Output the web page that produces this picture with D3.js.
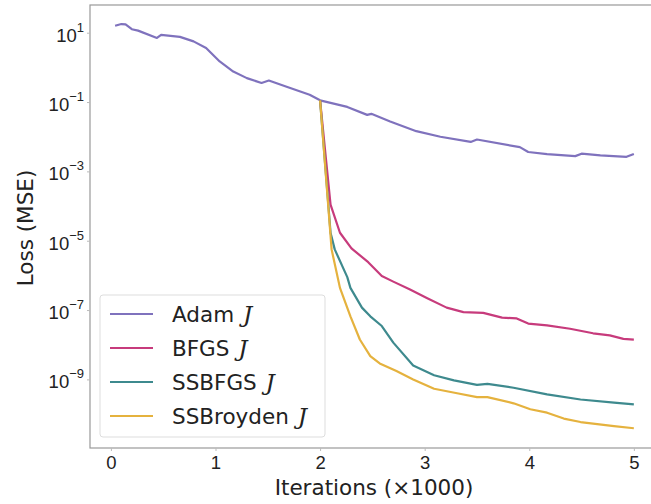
<!DOCTYPE html>
<html>
<head>
  <style type="text/css">
    body { margin: 0; background: #fff; }
    svg { font-family: "DejaVu Sans", sans-serif; }
    .tick text { fill: #222; }
  </style>
</head>
<body>
  <script src="https://cdn.jsdelivr.net/npm/d3@7/dist/d3.min.js"></script>
  <script type="text/javascript">
    // iterations in thousands, loss as log10(MSE)
    var adamX = [0.04, 0.1, 0.14, 0.2, 0.26, 0.44, 0.48, 0.66, 0.79, 0.91, 1.04, 1.17, 1.30, 1.44, 1.51, 1.68, 1.90, 2.0, 2.26, 2.45, 2.49, 2.67, 2.92, 3.15, 3.44, 3.50, 3.91, 3.99, 4.17, 4.44, 4.50, 4.68, 4.93, 5.0];
    var adamY = [1.2, 1.25, 1.24, 1.1, 1.06, 0.85, 0.94, 0.88, 0.75, 0.56, 0.17, -0.12, -0.31, -0.45, -0.38, -0.56, -0.79, -0.95, -1.14, -1.37, -1.34, -1.56, -1.84, -2.0, -2.15, -2.08, -2.30, -2.44, -2.50, -2.56, -2.49, -2.54, -2.58, -2.50];

    var bfgsX = [2.0, 2.06, 2.10, 2.19, 2.30, 2.46, 2.59, 2.70, 2.86, 3.02, 3.21, 3.37, 3.56, 3.74, 3.88, 3.99, 4.17, 4.39, 4.61, 4.77, 4.90, 5.0];
    var bfgsY = [-0.95, -2.76, -3.96, -4.77, -5.22, -5.62, -6.02, -6.18, -6.41, -6.65, -6.93, -7.06, -7.08, -7.22, -7.24, -7.39, -7.44, -7.54, -7.67, -7.73, -7.83, -7.85];

    var ssbfgsX = [2.0, 2.10, 2.14, 2.26, 2.29, 2.40, 2.48, 2.59, 2.70, 2.89, 3.09, 3.28, 3.50, 3.60, 3.85, 4.17, 4.49, 4.81, 5.0];
    var ssbfgsY = [-0.95, -4.77, -5.25, -6.05, -6.36, -6.93, -7.18, -7.46, -7.94, -8.6, -8.88, -9.03, -9.16, -9.13, -9.24, -9.43, -9.58, -9.67, -9.72];

    var ssbroydenX = [2.0, 2.11, 2.19, 2.29, 2.38, 2.48, 2.57, 2.73, 2.89, 3.09, 3.31, 3.50, 3.60, 3.85, 4.01, 4.17, 4.33, 4.49, 4.81, 5.0];
    var ssbroydenY = [-0.95, -5.25, -6.36, -7.18, -7.85, -8.33, -8.54, -8.76, -9.0, -9.27, -9.4, -9.51, -9.51, -9.69, -9.86, -9.96, -10.13, -10.23, -10.35, -10.41];

    var names = ["Adam", "BFGS", "SSBFGS", "SSBroyden"];
    var colors = ["#7f72bd", "#c73b7c", "#3e8a8e", "#e5b23e"];
    var xTicks = [0, 1, 2, 3, 4, 5];
    var yTickExp = [1, -1, -3, -5, -7, -9];

    var series = [
      { name: names[0], x: adamX, y: adamY },
      { name: names[1], x: bfgsX, y: bfgsY },
      { name: names[2], x: ssbfgsX, y: ssbfgsY },
      { name: names[3], x: ssbroydenX, y: ssbroydenY }
    ];

    var w = 651, h = 504;
    var m = { left: 90, right: -9, top: 5, bottom: 56 };

    var svg = d3.select("body").append("svg")
      .attr("width", w).attr("height", h);

    var x = d3.scaleLinear()
      .domain([-0.2, 5.25])
      .range([m.left, w - m.right]);

    var y = d3.scaleLog()
      .domain([1.05e-11, 63])
      .range([h - m.bottom, m.top]);

    var line = d3.line()
      .x(d => x(d[0]))
      .y(d => y(Math.pow(10, d[1])));

    // frame
    svg.append("rect")
      .attr("x", m.left).attr("y", m.top)
      .attr("width", x.range()[1] - m.left)
      .attr("height", h - m.bottom - m.top)
      .attr("fill", "none")
      .attr("stroke", "#999").attr("stroke-width", 1.2);

    // x axis
    var xAxis = svg.append("g")
      .attr("transform", "translate(0," + (h - m.bottom) + ")")
      .call(d3.axisBottom(x).tickValues(xTicks).tickSize(3).tickPadding(5).tickFormat(d3.format("d")));
    xAxis.select(".domain").remove();
    xAxis.selectAll(".tick line").attr("stroke", "#bbb");
    xAxis.selectAll(".tick text").attr("font-size", 18.5);

    // y axis
    var yAxis = svg.append("g")
      .attr("transform", "translate(" + m.left + ",0)")
      .call(d3.axisLeft(y).tickValues(yTickExp.map(e => Math.pow(10, e))).tickSize(3).tickPadding(4).tickFormat(""));
    yAxis.select(".domain").remove();
    yAxis.selectAll(".tick line").attr("stroke", "#bbb");
    yAxis.selectAll(".tick").each(function (d, i) {
      var t = d3.select(this).append("text")
        .attr("x", -6).attr("dy", "0.45em")
        .attr("text-anchor", "end")
        .attr("fill", "#222")
        .attr("font-size", 18.5);
      t.append("tspan").text("10");
      t.append("tspan")
        .attr("font-size", 13)
        .attr("dy", "-0.75em")
        .text(yTickExp[i] < 0 ? "\u2212" + (-yTickExp[i]) : yTickExp[i]);
    });

    // lines
    svg.append("g").selectAll("path")
      .data(series)
      .enter()
      .append("path")
      .attr("d", d => line(d.x.map((v, i) => [v, d.y[i]])))
      .attr("fill", "none")
      .attr("stroke", (d, i) => colors[i])
      .attr("stroke-width", 2.2)
      .attr("stroke-linejoin", "round");

    // axis labels
    svg.append("text")
      .attr("x", 374).attr("y", 495)
      .attr("text-anchor", "middle")
      .attr("font-size", 21.5).attr("fill", "#222")
      .text("Iterations (\u00d71000)");

    svg.append("text")
      .attr("transform", "translate(33," + 228 + ") rotate(-90)")
      .attr("text-anchor", "middle")
      .attr("font-size", 21.5).attr("fill", "#222")
      .text("Loss (MSE)");

    // legend
    var lg = svg.append("g");
    lg.append("rect")
      .attr("x", 100).attr("y", 295)
      .attr("width", 225).attr("height", 142)
      .attr("rx", 3)
      .attr("fill", "#fff").attr("fill-opacity", 0.8)
      .attr("stroke", "#ddd");
    var rows = lg.selectAll("g.row")
      .data(series)
      .enter().append("g")
      .attr("class", "row")
      .attr("transform", (d, i) => "translate(0," + (314 + i * 34) + ")");
    rows.append("line")
      .attr("x1", 110).attr("x2", 153)
      .attr("stroke", (d, i) => colors[i])
      .attr("stroke-width", 2.2);
    var lt = rows.append("text")
      .attr("x", 172).attr("dy", "0.36em")
      .attr("font-size", 21.5).attr("fill", "#222");
    lt.append("tspan").text(d => d.name + " ");
    lt.append("tspan")
      .attr("font-family", "DejaVu Serif, serif")
      .attr("font-style", "italic")
      .attr("font-size", 23)
      .attr("dx", 2)
      .text("J");
  </script>
</body>
</html>
